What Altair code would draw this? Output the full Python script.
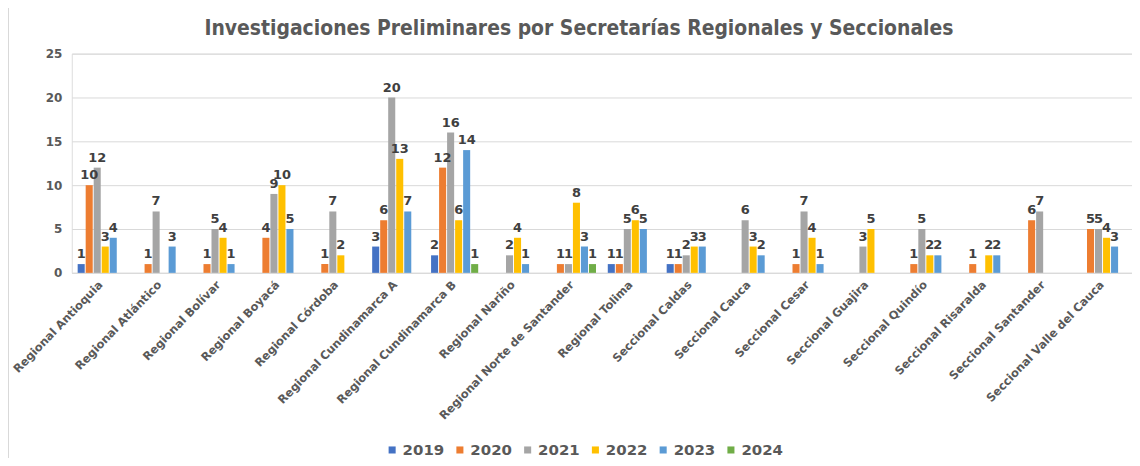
import altair as alt
import pandas as pd

title_text = "Investigaciones Preliminares por Secretarías Regionales y Seccionales"
categories = [
    "Regional Antioquia", "Regional Atlántico", "Regional Bolívar", "Regional Boyacá",
    "Regional Córdoba", "Regional Cundinamarca A", "Regional Cundinamarca B",
    "Regional Nariño", "Regional Norte de Santander", "Regional Tolima",
    "Seccional Caldas", "Seccional Cauca", "Seccional Cesar", "Seccional Guajira",
    "Seccional Quindío", "Seccional Risaralda", "Seccional Santander",
    "Seccional Valle del Cauca",
]
years = ["2019", "2020", "2021", "2022", "2023", "2024"]
colors = ["#4472C4", "#ED7D31", "#A5A5A5", "#FFC000", "#5B9BD5", "#70AD47"]

N = None
v2019 = [1, N, N, N, N, 3, 2, N, N, 1, 1, N, N, N, N, N, N, N]
v2020 = [10, 1, 1, 4, 1, 6, 12, N, 1, 1, 1, N, 1, N, 1, 1, 6, 5]
v2021 = [12, 7, 5, 9, 7, 20, 16, 2, 1, 5, 2, 6, 7, 3, 5, N, 7, 5]
v2022 = [3, N, 4, 10, 2, 13, 6, 4, 8, 6, 3, 3, 4, 5, 2, 2, N, 4]
v2023 = [4, 3, 1, 5, N, 7, 14, 1, 3, 5, 3, 2, 1, N, 2, 2, N, 3]
v2024 = [N, N, N, N, N, N, 1, N, 1, N, N, N, N, N, N, N, N, N]

series = dict(zip(years, [v2019, v2020, v2021, v2022, v2023, v2024]))
rows = []
for y, vals in series.items():
    for c, v in zip(categories, vals):
        if v is not None:
            rows.append({"cat": c, "year": y, "value": v})
df = pd.DataFrame(rows)

FONT = "DejaVu Sans"

x_enc = alt.X("cat:N", sort=categories, title=None,
              scale=alt.Scale(domain=categories, paddingInner=0.2, paddingOuter=0.1),
              axis=alt.Axis(labelAngle=-46, labelAlign="right", labelBaseline="middle",
                            labelFont=FONT, labelFontSize=11.5, labelFontWeight="bold",
                            labelColor="#595959", labelPadding=10, ticks=False,
                            domainColor="#d9d9d9", labelOverlap=False, labelLimit=300))
xo_enc = alt.XOffset("year:N", scale=alt.Scale(domain=years, paddingInner=0.12))
y_enc = alt.Y("value:Q", title=None,
              scale=alt.Scale(domain=[0, 25], nice=False),
              axis=alt.Axis(values=[0, 5, 10, 15, 20, 25], labelFont=FONT, labelFontSize=12,
                            labelFontWeight="bold", labelColor="#595959", labelPadding=10,
                            ticks=False, domain=False, gridColor="#d9d9d9", gridWidth=1))

base = alt.Chart(df)
bars = base.mark_bar().encode(
    x=x_enc, xOffset=xo_enc, y=y_enc,
    color=alt.Color("year:N", scale=alt.Scale(domain=years, range=colors),
                    legend=alt.Legend(title=None, orient="none", direction="horizontal",
                                      legendX=314, legendY=390, symbolType="square",
                                      symbolSize=50, symbolStrokeWidth=0,
                                      labelFont=FONT, labelFontSize=15,
                                      labelFontWeight="bold", labelColor="#595959",
                                      labelOffset=3, columnPadding=8)),
)
labels = base.mark_text(baseline="bottom", dy=-3, font=FONT, fontSize=13,
                        fontWeight="bold", color="#404040").encode(
    x=x_enc, xOffset=xo_enc, y=y_enc, text="value:Q",
)
border = alt.Chart(pd.DataFrame({"a": [0]})).mark_rule(color="#d9d9d9", strokeWidth=1).encode(
    x=alt.value(-63.5), y=alt.value(-60), y2=alt.value(420),
)
title = alt.Chart(pd.DataFrame({"t": [title_text]})).mark_text(
    font="DejaVu Sans Condensed", fontSize=21, fontWeight="bold", color="#595959",
    align="center", baseline="middle",
).encode(x=alt.value(509), y=alt.value(-25), text="t:N")

chart = alt.layer(bars, labels, border, title).properties(
    width=1064, height=220,
    autosize=alt.AutoSizeParams(type="none"),
    padding={"left": 64, "top": 45, "right": 0, "bottom": 185},
).configure_view(stroke=None).configure(background="white")

chart.save("out.html", embed_options={"renderer": "svg", "actions": False})
